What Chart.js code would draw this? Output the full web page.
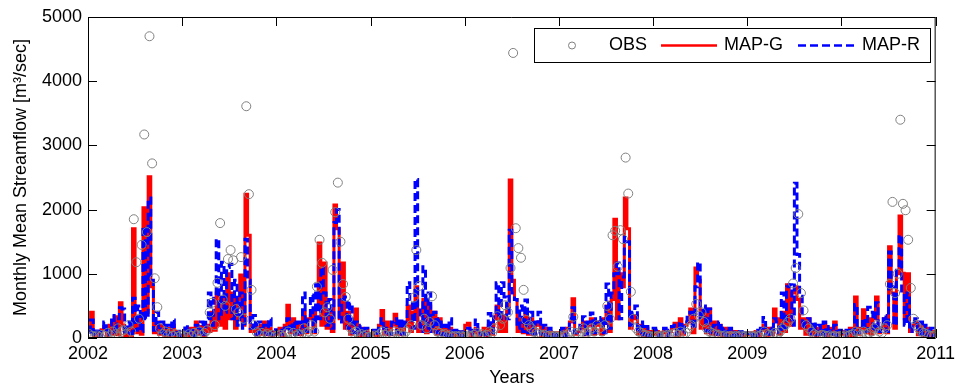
<!DOCTYPE html>
<html>
<head>
<meta charset="utf-8">
<script src="https://cdn.jsdelivr.net/npm/chart.js@4.4.1/dist/chart.umd.min.js"></script>
<style>
  html, body { margin: 0; padding: 0; background: #fff; }
  #wrap { width: 960px; height: 389px; }
</style>
</head>
<body>
<div id="wrap"><canvas id="myChart" width="960" height="389"></canvas></div>
<script>
// First year of the record and number of values per year (roughly one every ten days).
const firstYear = 2002;
const perYear = 36;

// Tick labels for both axes.
const yearTicks = [2002, 2003, 2004, 2005, 2006, 2007, 2008, 2009, 2010, 2011];
const flowTicks = [0, 1000, 2000, 3000, 4000, 5000];

// Observed streamflow [m3/sec], one line per year.
const obs = [
  60, 30, 20, 40, 15, 50, 30, 80, 40, 100, 60, 150, 90, 120, 60, 200, 100, 1850, 1180, 300, 1450, 3170, 1650, 4700, 2720, 930, 480, 150, 60, 100, 40, 80, 30, 60, 20, 40,
  40, 20, 60, 30, 80, 40, 100, 50, 80, 120, 400, 550, 200, 860, 1790, 600, 500, 1230, 1370, 1210, 450, 400, 1260, 300, 3610, 2240, 750, 200, 90, 50, 80, 40, 60, 30, 50, 20,
  30, 50, 20, 60, 100, 40, 80, 30, 60, 50, 150, 80, 100, 200, 100, 800, 1530, 1170, 400, 480, 300, 1060, 1960, 2420, 1500, 840, 640, 300, 150, 80, 100, 40, 60, 30, 50, 20,
  20, 40, 30, 60, 100, 50, 80, 40, 60, 100, 50, 80, 40, 100, 150, 200, 630, 1370, 810, 200, 300, 150, 250, 650, 200, 100, 80, 50, 60, 30, 40, 20, 30, 20, 40, 20,
  20, 40, 30, 50, 80, 40, 60, 30, 50, 100, 80, 150, 340, 200, 300, 510, 400, 1090, 4440, 1710, 1400, 1250, 750, 280, 200, 150, 100, 80, 60, 40, 50, 30, 40, 20, 30, 20,
  20, 40, 30, 60, 100, 330, 80, 50, 100, 150, 80, 100, 150, 100, 200, 150, 100, 200, 500, 300, 1600, 1670, 1110, 1680, 1540, 2810, 2250, 720, 300, 150, 100, 80, 50, 40, 30, 20,
  20, 30, 20, 40, 30, 50, 40, 60, 80, 50, 100, 60, 80, 150, 200, 300, 530, 350, 400, 250, 150, 100, 80, 60, 50, 40, 30, 40, 20, 30, 20, 30, 20, 40, 20, 30,
  20, 30, 20, 40, 30, 50, 100, 60, 50, 40, 80, 60, 100, 150, 200, 250, 300, 850, 1090, 1930, 700, 430, 200, 150, 100, 60, 40, 30, 50, 40, 30, 40, 20, 30, 20, 30,
  20, 40, 30, 50, 60, 100, 80, 50, 100, 60, 80, 100, 150, 200, 100, 80, 150, 200, 840, 2120, 700, 1000, 3400, 2090, 1990, 1530, 780, 300, 200, 150, 100, 80, 60, 40, 30, 40
];

// Simulated streamflow, MAP-G.
const mapG = [
  120, 400, 30, 90, 20, 130, 180, 40, 200, 60, 330, 50, 550, 200, 40, 150, 40, 1700, 80, 300, 60, 2030, 400, 2510, 800, 80, 250, 60, 200, 40, 150, 30, 200, 40, 100, 30,
  40, 120, 30, 150, 40, 250, 60, 180, 40, 200, 100, 400, 120, 700, 200, 600, 150, 1000, 300, 700, 150, 600, 980, 200, 2240, 1600, 100, 150, 50, 200, 60, 250, 50, 150, 40, 100,
  60, 150, 40, 200, 510, 80, 300, 60, 200, 50, 400, 80, 300, 350, 80, 500, 1480, 200, 1170, 150, 400, 100, 2070, 1700, 300, 1170, 150, 400, 60, 200, 450, 40, 150, 40, 120, 30,
  50, 100, 30, 200, 430, 60, 250, 50, 200, 370, 60, 250, 50, 200, 500, 100, 400, 800, 100, 200, 600, 80, 500, 100, 400, 60, 300, 50, 150, 40, 150, 30, 100, 30, 80, 20,
  200, 230, 40, 80, 150, 40, 60, 150, 40, 200, 60, 300, 500, 100, 350, 100, 500, 2460, 900, 600, 100, 300, 80, 400, 60, 300, 50, 200, 250, 40, 150, 30, 100, 30, 80, 20,
  80, 120, 30, 150, 250, 610, 60, 100, 150, 250, 50, 200, 300, 60, 200, 250, 60, 300, 500, 100, 600, 1850, 300, 1000, 800, 2180, 1700, 150, 300, 350, 60, 200, 40, 150, 30, 100,
  60, 100, 30, 80, 120, 30, 100, 150, 230, 40, 300, 60, 200, 250, 450, 80, 1090, 900, 150, 400, 80, 450, 60, 250, 50, 200, 40, 150, 30, 120, 30, 100, 30, 80, 20, 60,
  50, 80, 30, 100, 30, 120, 200, 40, 150, 50, 450, 300, 60, 400, 100, 830, 200, 700, 800, 600, 150, 300, 60, 300, 50, 200, 40, 150, 60, 200, 40, 150, 50, 250, 30, 100,
  60, 100, 30, 150, 40, 640, 60, 150, 440, 80, 300, 60, 300, 640, 80, 150, 300, 80, 1420, 700, 150, 1000, 1900, 1010, 300, 1000, 100, 200, 250, 50, 200, 40, 150, 30, 100, 20
];

// Simulated streamflow, MAP-R.
const mapR = [
  90, 280, 30, 110, 30, 100, 250, 50, 160, 350, 80, 300, 470, 450, 60, 250, 70, 620, 120, 500, 100, 1730, 300, 2180, 900, 120, 400, 80, 250, 60, 200, 50, 280, 60, 130, 40,
  60, 200, 50, 120, 40, 200, 80, 250, 60, 300, 700, 200, 650, 1540, 300, 1180, 400, 1100, 1150, 300, 900, 200, 700, 150, 1540, 900, 150, 350, 60, 250, 80, 200, 60, 300, 50, 130,
  80, 120, 50, 150, 300, 80, 250, 60, 250, 80, 700, 100, 350, 670, 100, 830, 300, 1100, 700, 200, 600, 150, 1800, 2000, 250, 600, 640, 150, 540, 80, 250, 60, 200, 50, 150, 40,
  70, 120, 40, 150, 300, 80, 150, 60, 250, 300, 80, 300, 60, 250, 860, 600, 150, 2470, 500, 100, 1110, 150, 700, 100, 400, 80, 300, 50, 200, 40, 300, 40, 120, 30, 100, 30,
  120, 150, 50, 120, 280, 50, 80, 100, 50, 380, 80, 400, 860, 300, 860, 640, 300, 1680, 700, 600, 150, 500, 100, 590, 80, 400, 60, 250, 400, 60, 200, 40, 150, 30, 100, 30,
  100, 150, 40, 120, 300, 470, 80, 120, 200, 330, 60, 250, 390, 80, 300, 250, 320, 80, 840, 150, 700, 1000, 1170, 300, 950, 1570, 1500, 200, 400, 500, 80, 250, 50, 180, 40, 120,
  150, 120, 40, 100, 150, 40, 120, 180, 200, 60, 250, 80, 250, 360, 400, 150, 800, 1180, 300, 500, 100, 450, 80, 200, 60, 250, 50, 150, 40, 150, 40, 120, 30, 100, 30, 80,
  70, 100, 40, 120, 40, 150, 320, 60, 150, 60, 300, 250, 80, 700, 150, 800, 830, 200, 2410, 1300, 650, 150, 250, 300, 60, 250, 50, 200, 60, 250, 40, 180, 60, 200, 40, 120,
  80, 120, 40, 120, 50, 520, 80, 180, 300, 100, 480, 400, 100, 550, 100, 200, 350, 100, 1340, 800, 200, 1100, 1600, 700, 200, 700, 100, 250, 300, 60, 250, 50, 200, 40, 150, 30
];

const fontFamily = '"Liberation Sans", Arial, sans-serif';
const obsColor = '#808080';
const mapGColor = '#ff0000';
const mapRColor = '#0000ff';

// Time stamp (decimal year) for every value.
const times = obs.map((v, i) => firstYear + (i + 0.5) / perYear);
const toPoints = values => values.map((v, i) => ({x: times[i], y: v}));

// Draws the MATLAB style box with inward ticks and the legend inside the axes.
const axesBox = {
  id: 'axesBox',
  afterDatasetsDraw(chart) {
    const {ctx, chartArea: area, scales} = chart;
    const tickLen = 9;
    ctx.save();
    ctx.strokeStyle = '#000';
    ctx.lineWidth = 1;
    ctx.setLineDash([]);
    ctx.beginPath();
    ctx.rect(area.left + 0.5, area.top + 0.5, area.right - area.left - 1, area.bottom - area.top - 1);
    yearTicks.forEach(year => {
      const px = Math.round(scales.x.getPixelForValue(year)) + 0.5;
      ctx.moveTo(px, area.bottom);
      ctx.lineTo(px, area.bottom - tickLen);
      ctx.moveTo(px, area.top);
      ctx.lineTo(px, area.top + tickLen);
    });
    flowTicks.forEach(value => {
      const py = Math.round(scales.y.getPixelForValue(value)) + 0.5;
      ctx.moveTo(area.left, py);
      ctx.lineTo(area.left + tickLen, py);
      ctx.moveTo(area.right, py);
      ctx.lineTo(area.right - tickLen, py);
    });
    ctx.stroke();

    // Legend box.
    const boxW = 396;
    const boxH = 34;
    const boxLeft = Math.round(area.right) - 6 - boxW;
    const boxTop = Math.round(area.top) + 11;
    const midY = boxTop + boxH / 2 + 0.5;
    ctx.fillStyle = '#fff';
    ctx.fillRect(boxLeft, boxTop, boxW, boxH);
    ctx.strokeRect(boxLeft + 0.5, boxTop + 0.5, boxW, boxH);

    const labels = chart.data.datasets.map(d => d.label);
    ctx.strokeStyle = obsColor;
    ctx.beginPath();
    ctx.arc(boxLeft + 38, midY, 3.5, 0, 2 * Math.PI);
    ctx.stroke();

    ctx.lineWidth = 2.5;
    ctx.strokeStyle = mapGColor;
    ctx.beginPath();
    ctx.moveTo(boxLeft + 127, midY);
    ctx.lineTo(boxLeft + 183, midY);
    ctx.stroke();

    ctx.strokeStyle = mapRColor;
    ctx.setLineDash([8, 4]);
    ctx.beginPath();
    ctx.moveTo(boxLeft + 264, midY);
    ctx.lineTo(boxLeft + 320, midY);
    ctx.stroke();
    ctx.setLineDash([]);

    ctx.fillStyle = '#000';
    ctx.font = '18px ' + fontFamily;
    ctx.textBaseline = 'middle';
    ctx.textAlign = 'left';
    ctx.fillText(labels[0], boxLeft + 75, midY);
    ctx.fillText(labels[1], boxLeft + 190, midY);
    ctx.fillText(labels[2], boxLeft + 328, midY);
    ctx.restore();
  }
};

const ctx = document.querySelector('#myChart');

new Chart(ctx, {
  type: 'line',
  data: {
    datasets: [{
      label: 'OBS',
      data: toPoints(obs),
      showLine: false,
      pointStyle: 'circle',
      pointRadius: 4.5,
      pointBorderWidth: 1,
      pointBorderColor: obsColor,
      pointBackgroundColor: 'rgba(0,0,0,0)',
      order: 0
    }, {
      label: 'MAP-G',
      data: toPoints(mapG),
      borderColor: mapGColor,
      borderWidth: 3,
      stepped: 'middle',
      pointRadius: 0,
      order: 2
    }, {
      label: 'MAP-R',
      data: toPoints(mapR),
      borderColor: mapRColor,
      borderWidth: 3,
      borderDash: [8, 4],
      stepped: 'middle',
      pointRadius: 0,
      order: 1
    }]
  },
  options: {
    responsive: false,
    animation: false,
    devicePixelRatio: 1,
    events: [],
    layout: { padding: { left: 0, top: 17, right: 22, bottom: 0 } },
    plugins: {
      legend: { display: false },
      tooltip: { enabled: false }
    },
    scales: {
      x: {
        type: 'linear',
        min: 2002,
        max: 2011,
        grid: { display: false, drawTicks: false },
        border: { display: false },
        ticks: {
          stepSize: 1,
          padding: 5,
          maxRotation: 0,
          color: '#000',
          font: { family: fontFamily, size: 18 },
          callback: value => String(value)
        },
        title: {
          display: true,
          text: 'Years',
          color: '#000',
          font: { family: fontFamily, size: 18 },
          padding: { top: 0, bottom: 0 }
        },
        afterFit: scale => { scale.height = 51; }
      },
      y: {
        min: 0,
        max: 5000,
        grid: { display: false, drawTicks: false },
        border: { display: false },
        ticks: {
          stepSize: 1000,
          padding: 6,
          color: '#000',
          font: { family: fontFamily, size: 18 },
          callback: value => String(value)
        },
        title: {
          display: true,
          text: 'Monthly Mean Streamflow [m³/sec]',
          color: '#000',
          font: { family: fontFamily, size: 18 },
          padding: { top: 10, bottom: 0 }
        },
        afterFit: scale => { scale.width = 88; }
      }
    }
  },
  plugins: [axesBox]
});
</script>
</body>
</html>
